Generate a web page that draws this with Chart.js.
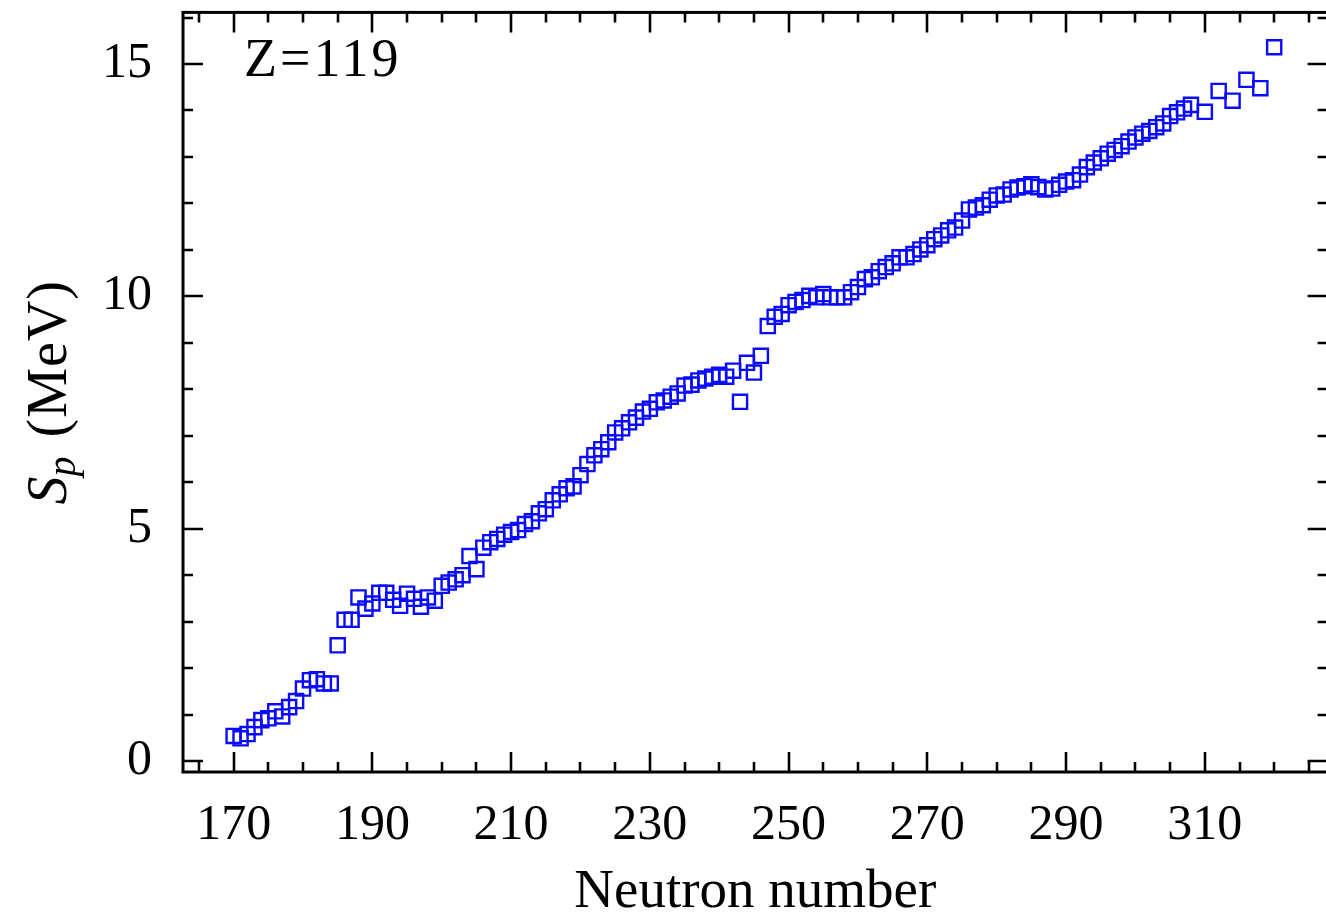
<!DOCTYPE html>
<html>
<head>
<meta charset="utf-8">
<script src="https://cdn.jsdelivr.net/npm/chart.js@4.4.1/dist/chart.umd.min.js"></script>
<style>
  html, body { margin: 0; padding: 0; background: #fff; overflow: hidden; }
  canvas { display: block; }
</style>
</head>
<body>
<canvas id="c" width="1340" height="915" style="width:1340px;height:915px"></canvas>
<script>
// ---- data ----
const neutronNumbers = [
  170,171,172,173,174,175,176,177,178,179,
  180,181,182,183,184,185,186,187,188,189,
  190,191,192,193,194,195,196,197,198,199,
  200,201,202,203,204,205,206,207,208,209,
  210,211,212,213,214,215,216,217,218,219,
  220,221,222,223,224,225,226,227,228,229,
  230,231,232,233,234,235,236,237,238,239,
  240,241,242,243,244,245,246,247,248,249,
  250,251,252,253,254,255,256,257,258,259,
  260,261,262,263,264,265,266,267,268,269,
  270,271,272,273,274,275,276,277,278,279,
  280,281,282,283,284,285,286,287,288,289,
  290,291,292,293,294,295,296,297,298,299,
  300,301,302,303,304,305,306,307,308,
  310,312,314,316,318,320
];
const spValues = [
  0.54,0.49,0.58,0.73,0.88,0.92,1.07,0.96,1.16,1.29,
  1.56,1.74,1.76,1.67,1.67,2.49,3.04,3.04,3.52,3.28,
  3.39,3.62,3.62,3.47,3.34,3.60,3.49,3.32,3.52,3.45,
  3.77,3.84,3.91,4.00,4.41,4.13,4.59,4.71,4.78,4.87,
  4.93,4.97,5.10,5.16,5.33,5.42,5.61,5.74,5.87,5.91,
  6.15,6.39,6.58,6.71,6.86,7.07,7.16,7.29,7.39,7.52,
  7.58,7.72,7.76,7.84,7.91,8.08,8.10,8.19,8.23,8.27,
  8.31,8.27,8.40,7.73,8.57,8.36,8.72,9.36,9.56,9.62,
  9.81,9.88,9.92,10.01,9.98,10.05,9.98,9.98,9.98,10.09,
  10.20,10.37,10.41,10.54,10.63,10.71,10.84,10.84,10.91,11.01,
  11.10,11.23,11.31,11.42,11.48,11.63,11.87,11.91,11.96,12.08,
  12.17,12.19,12.30,12.34,12.37,12.41,12.35,12.30,12.32,12.40,
  12.47,12.50,12.62,12.78,12.88,12.97,13.07,13.15,13.23,13.33,
  13.42,13.50,13.56,13.64,13.72,13.88,13.96,14.04,14.12,
  13.97,14.42,14.21,14.66,14.48,15.36
];
const xTickLabels = [170,190,210,230,250,270,290,310];
const yTickLabels = [0,5,10,15];
const annotationText = 'Z=119';
const xTitle = 'Neutron number';

// ---- styling ----
const FONT = '"Liberation Serif", "DejaVu Serif", serif';
const X_MIN = 162.7, X_MAX = 327.7, Y_MIN = -0.236, Y_MAX = 16.11;
const X_MINOR_STEP = 5, Y_MINOR_STEP = 1;

const frameTicks = {
  id: 'frameTicks',
  afterDraw(chart) {
    const ctx = chart.ctx;
    const {left, right, top, bottom} = chart.chartArea;
    const xs = chart.scales.x, ys = chart.scales.y;
    ctx.save();
    ctx.strokeStyle = '#000';
    ctx.lineWidth = 2.6;
    ctx.lineCap = 'butt';
    const majorLen = 20, minorLen = 10;
    for (let v = Math.ceil(X_MIN / X_MINOR_STEP) * X_MINOR_STEP; v <= X_MAX; v += X_MINOR_STEP) {
      const px = Math.round(xs.getPixelForValue(v));
      const len = xTickLabels.includes(v) ? majorLen : minorLen;
      ctx.beginPath();
      ctx.moveTo(px, bottom); ctx.lineTo(px, bottom - len);
      ctx.moveTo(px, top); ctx.lineTo(px, top + len);
      ctx.stroke();
    }
    for (let v = Math.ceil(Y_MIN / Y_MINOR_STEP) * Y_MINOR_STEP; v <= Y_MAX; v += Y_MINOR_STEP) {
      const py = Math.round(ys.getPixelForValue(v));
      const len = yTickLabels.includes(v) ? majorLen : minorLen;
      ctx.beginPath();
      ctx.moveTo(left, py); ctx.lineTo(left + len, py);
      ctx.moveTo(right, py); ctx.lineTo(right - len, py);
      ctx.stroke();
    }
    ctx.lineWidth = 3;
    ctx.strokeRect(left, top, right - left, bottom - top);

    // annotation
    ctx.fillStyle = '#000';
    ctx.font = '54px ' + FONT;
    ctx.textAlign = 'left';
    ctx.textBaseline = 'alphabetic';
    ctx.letterSpacing = '3px';
    ctx.fillText(annotationText, 244, 76);

    // y-axis title: S_p (MeV)
    ctx.letterSpacing = '1px';
    const cy = (top + bottom) / 2;
    ctx.translate(47, cy);
    ctx.rotate(-Math.PI / 2);
    const fS = 'italic 56px ' + FONT;
    const fp = 'italic 40px ' + FONT;
    const fR = '56px ' + FONT;
    ctx.font = fS; const wS = ctx.measureText('S').width;
    ctx.font = fp; const wp = ctx.measureText('p').width;
    ctx.font = fR; const wR = ctx.measureText(' (MeV)').width;
    const total = wS + wp + 2 + wR;
    let x0 = -total / 2;
    const base = 19;
    ctx.font = fS; ctx.fillText('S', x0, base); x0 += wS;
    ctx.font = fp; ctx.fillText('p', x0 - 1, base + 9); x0 += wp + 2;
    ctx.font = fR; ctx.fillText(' (MeV)', x0, base);
    ctx.restore();
  }
};

const zeroPadY = s => { s.width = 183; s.paddingTop = 0; s.paddingBottom = 0; };
const zeroPadX = s => { s.height = 143; s.paddingLeft = 0; s.paddingRight = 0; };

new Chart(document.getElementById('c'), {
  type: 'scatter',
  data: {
    datasets: [{
      data: neutronNumbers.map((n, i) => ({x: n, y: spValues[i]})),
      pointStyle: 'rect',
      pointRadius: 10,
      pointHoverRadius: 10,
      pointBorderWidth: 2.4,
      pointBorderColor: '#0a0aff',
      pointBackgroundColor: 'rgba(0,0,0,0)',
      showLine: false
    }]
  },
  options: {
    responsive: false,
    animation: false,
    devicePixelRatio: 1,
    layout: {padding: {top: 9, right: 7, left: 0, bottom: 0}},
    plugins: {legend: {display: false}, tooltip: {enabled: false}},
    scales: {
      x: {
        type: 'linear', min: X_MIN, max: X_MAX,
        grid: {display: false, drawTicks: false},
        border: {display: false},
        afterBuildTicks: s => { s.ticks = xTickLabels.map(v => ({value: v})); },
        afterFit: zeroPadX,
        ticks: {color: '#000', font: {family: FONT, size: 50}, padding: 24, maxRotation: 0, autoSkip: false},
        title: {display: true, text: xTitle, color: '#000', font: {family: FONT, size: 55, lineHeight: 0.8}, padding: {top: 0, bottom: 0}}
      },
      y: {
        type: 'linear', min: Y_MIN, max: Y_MAX,
        grid: {display: false, drawTicks: false},
        border: {display: false},
        afterBuildTicks: s => { s.ticks = yTickLabels.map(v => ({value: v})); },
        afterFit: zeroPadY,
        ticks: {color: '#000', font: {family: FONT, size: 50}, padding: 31}
      }
    }
  },
  plugins: [frameTicks]
});
</script>
</body>
</html>
